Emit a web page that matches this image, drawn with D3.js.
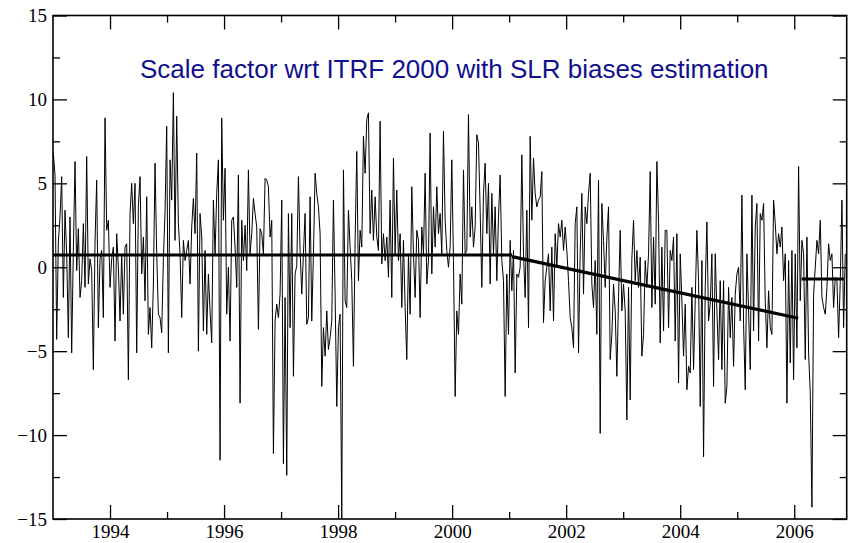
<!DOCTYPE html>
<html>
<head>
<meta charset="utf-8">
<script src="https://cdn.jsdelivr.net/npm/d3@7/dist/d3.min.js"></script>
<style>
    body { margin: 0; background: #fff; }
    svg { display: block; }
    .tick-label { font-family: 'Liberation Serif', 'Times New Roman', serif; font-size: 19px; fill: #000; }
    .chart-title { font-family: 'Liberation Sans', Arial, sans-serif; font-size: 26px; fill: #10108f; }
</style>
</head>
<body>
<svg id="vis" width="850" height="543"></svg>
<script>
'use strict';

// scale factor solutions (ppb), one every ~10.7 days
var firstEpoch = 1993.006;
var epochStep = 0.02924;

var scale1993 = [
    6.8, 5.5, -4.3, 1.5, 3.0, 5.4, -1.8, 3.4, 0.8, -4.2, 3.0, -5.1, 1.0, 6.3, -0.2, 2.3,
    -1.8, -0.8, 2.6, -1.2, 6.6, -1.0, 0.5, -0.2, -6.1, 1.5, 5.2, -3.6, 0.5, 1.0, -3.0, 8.9,
    2.2, 2.8, -1.2, 0.5, 1.2, -4.4, 2.0, 0.0, -3.2, 0.8, -2.8, 1.2, 1.4, -6.7, 3.2, 5.0,
    2.6, 5.0, -5.1, 3.6, 5.4, -0.4, 1.8, -2.0, 4.2, -4.0, -2.4, -4.8, -1.0, 6.2, 0.8, -2.8,
    -3.0, -3.9, 0.5, 3.3, 8.4, -5.1, 6.4, 4.0, 10.4, 1.6, 9.0, 2.6, 0.8, -3.0, 1.6
];
var scale1995 = [
    0.4, 1.0, 1.6, -1.0, 2.4, 4.1, 2.0, 6.8, -5.0, 3.2, 1.8, -3.8, 1.0, -4.0, -0.4, -2.6,
    -4.5, 4.0, 0.8, 4.4, 6.4, -11.5, 8.9, 2.8, 5.9, -2.8, 0.0, -4.4, 2.8, 3.0, 1.2, -1.2,
    5.5, -8.1, 2.8, 0.4, 2.5, -0.2, 5.8, 0.8, 2.0, 4.1, 3.2, 2.4, -3.7, 2.3, 2.0, 0.8,
    5.3, 5.2, 4.8, 1.8, 2.8, -11.1, -3.2, -2.2, -3.0, -1.6, 4.0, -11.7, -1.8, -12.4, 3.2, -3.6,
    3.2, -6.5, -0.4, 0.1, 5.4, 1.0, -1.6, 0.8, 3.2, -3.4, -3.0, 4.2, -3.2, 0.8, 5.6, 4.4, 3.6
];
var scale1997 = [
    2.0, -7.1, -3.6, -5.3, -2.6, -4.9, -4.2, -3.2, 4.0, -1.6, -8.3, -3.6, -2.8, -15.0, 5.8, -2.0,
    -2.4, 3.4, 1.2, -0.8, -5.9, 1.6, 6.9, -0.8, 2.2, 1.2, 7.8, 5.6, 8.8, 9.2, 2.0, 4.6,
    1.6, 4.2, 1.8, 1.0, 8.7, 0.2, 2.0, 0.4, 1.8, -0.6, 4.0, -1.8, 6.5, 0.8, 4.6, 0.4,
    2.0, -2.4, 1.6, -2.4, -5.5, 0.8, -2.8, 4.8, 0.8, -1.8, 2.2, 1.6, -3.0, 2.4, 0.8, 5.6,
    -1.0, 0.4, 8.0, -0.4, 3.6, 1.2, 4.8, 2.0, 3.2, 0.8, 8.1, 2.8, 1.0, 0.0, 1.2, 6.4, 0.4
];
var scale2000 = [
    -7.7, -2.6, -4.0, -0.4, -2.2, 5.8, 0.8, 1.0, 9.1, 1.8, 3.6, 1.2, 2.4, 7.9, 7.4, 3.4,
    -1.2, 4.4, 6.2, 2.0, 5.0, -1.0, 4.4, 0.8, 3.6, -0.8, 3.0, 5.5, 0.4, -0.8, -7.7, -0.4,
    -4.0, 1.6, -1.4, 1.0, -6.3, -0.4, -0.6, 0.0, 6.7, 0.8, -1.8, 3.4, -3.6, 7.8, 2.8, 6.5,
    4.4, 3.6, 4.0, 4.2, 5.7, -3.3, -0.8, 0.0, 0.8, -2.6, 1.2, -3.2, 2.0, 0.0, 2.6, 1.8,
    2.8, 1.0, 2.4, 1.0, -0.8, -3.0, -3.6, -4.8, 2.6, 3.6, -5.1, 0.8, 4.4, -1.6, 3.6, 2.6, 4.4
];
var scale2002 = [
    5.6, -1.0, -2.4, 0.4, -4.0, 5.2, -9.9, 3.8, 1.6, -1.2, 1.8, 3.6, -5.5, -4.0, -1.0, -2.6,
    -6.5, -1.8, 2.2, -2.6, -1.0, -2.6, -9.1, -1.2, -7.9, 0.5, 2.8, -0.8, 1.0, -1.2, 0.6, -5.3,
    -4.0, 0.4, -1.2, 0.8, 5.7, -2.4, 1.8, -2.2, 6.3, 2.8, -4.5, 1.2, -3.8, 2.2, 2.2, -3.6,
    1.0, 0.4, 1.8, -4.4, 2.0, -6.9, 0.8, -2.0, -5.3, -2.2, -7.3, -5.9, -6.3, -1.2, -6.1, -2.0,
    2.2, -0.8, -8.3, 0.4, -11.3, -1.2, 2.7, -3.2, -2.2, 0.8, -7.1, 0.8, -2.6, -5.5
];
var scale2004 = [
    -0.8, -6.1, -0.8, -8.1, -7.1, -1.2, -4.2, -1.8, -5.9, -1.6, -0.4, 0.0, -3.2, 4.3, -3.4, -7.3,
    0.8, -2.6, -6.1, 4.3, -3.8, 2.4, 3.8, -4.4, 3.2, 2.8, 3.8, -2.0, -4.8, -1.4, -3.6, -4.0,
    4.0, 2.6, 0.8, 2.0, 1.2, 2.4, -0.8, 0.8, -8.1, 0.4, -5.7, 1.0, -6.7, 0.8, -4.8, 6.0,
    -2.0, 1.6, 0.8, -5.5, 1.8, -5.1, -7.5, -14.3, -1.6, 0.0, 1.6, 0.8, 2.8, -1.8, -2.4, -2.8,
    -1.2, 1.4, 0.4, 0.8, -2.4, -0.6, -0.8, -4.2, -0.8, 4.0, -3.6, 0.8
];

// piecewise model fitted to the series: [epoch, ppb] end points
var trendFlat = [[1993.0, 0.73], [2001.05, 0.73]];
var trendDrift = [[2001.05, 0.63], [2006.07, -3.04]];
var trendAfter = [[2006.13, -0.7], [2006.87, -0.7]];

var yearMajor = [1994, 1996, 1998, 2000, 2002, 2004, 2006];
var yearMinor = [1995, 1997, 1999, 2001, 2003, 2005];
var ppbMajor = [-15, -10, -5, 0, 5, 10, 15];
var ppbMinor = [-12.5, -7.5, -2.5, 2.5, 7.5, 12.5];

var titleText = 'Scale factor wrt ITRF 2000 with SLR biases estimation';

(function drawChart() {
    var svg = d3.select('#vis');

    var left = 53, right = 846.7, top = 15.5, bottom = 519;

    var x = d3.scaleLinear().domain([1993, 2006.92]).range([left, right]);
    var y = d3.scaleLinear().domain([-15, 15]).range([bottom, top]);

    var values = [].concat(scale1993, scale1995, scale1997, scale2000, scale2002, scale2004);
    var series = values.map(function (v, i) {
        return [firstEpoch + i * epochStep, v];
    });

    svg.append('defs').append('clipPath')
        .attr('id', 'plot-clip')
        .append('rect')
        .attr('x', left)
        .attr('y', top)
        .attr('width', right - left)
        .attr('height', bottom - top);

    var line = d3.line()
        .x(function (d) { return x(d[0]); })
        .y(function (d) { return y(d[1]); });

    //thin series line
    svg.append('path')
        .datum(series)
        .attr('clip-path', 'url(#plot-clip)')
        .attr('fill', 'none')
        .attr('stroke', '#000')
        .attr('stroke-width', 1)
        .attr('stroke-linejoin', 'miter')
        .attr('d', line);

    //thick model segments
    svg.append('g')
        .selectAll('path')
        .data([trendFlat, trendDrift, trendAfter])
        .enter().append('path')
        .attr('fill', 'none')
        .attr('stroke', '#000')
        .attr('stroke-width', 3.2)
        .attr('d', line);

    //ticks on all four sides, pointing inward
    function addAxis(axis, tx, ty) {
        var g = svg.append('g')
            .attr('transform', 'translate(' + tx + ',' + ty + ')')
            .call(axis);
        g.select('.domain').remove();
        g.selectAll('.tick line').attr('stroke', '#000').attr('stroke-width', 1.3);
        g.selectAll('.tick text').attr('class', 'tick-label').attr('fill', null)
            .attr('font-family', null).attr('font-size', null);
        return g;
    }

    //year labels sit right on the bottom edge, as in the original figure
    addAxis(d3.axisBottom(x).tickValues(yearMajor).tickFormat(d3.format('d'))
        .tickSize(-14).tickPadding(6), 0, bottom);
    addAxis(d3.axisBottom(x).tickValues(yearMinor).tickFormat('').tickSize(-7), 0, bottom);
    addAxis(d3.axisTop(x).tickValues(yearMajor).tickFormat('').tickSize(-14), 0, top);
    addAxis(d3.axisTop(x).tickValues(yearMinor).tickFormat('').tickSize(-7), 0, top);

    addAxis(d3.axisLeft(y).tickValues(ppbMajor).tickFormat(d3.format('d'))
        .tickSize(-14).tickPadding(6), left, 0);
    addAxis(d3.axisLeft(y).tickValues(ppbMinor).tickFormat('').tickSize(-7), left, 0);
    addAxis(d3.axisRight(y).tickValues(ppbMajor).tickFormat('').tickSize(-14), right, 0);
    addAxis(d3.axisRight(y).tickValues(ppbMinor).tickFormat('').tickSize(-7), right, 0);

    //frame
    svg.append('rect')
        .attr('x', left)
        .attr('y', top)
        .attr('width', right - left)
        .attr('height', bottom - top)
        .attr('fill', 'none')
        .attr('stroke', '#000')
        .attr('stroke-width', 1.6);

    svg.append('text')
        .attr('class', 'chart-title')
        .attr('x', 140)
        .attr('y', 78)
        .text(titleText);
})();
</script>
</body>
</html>
